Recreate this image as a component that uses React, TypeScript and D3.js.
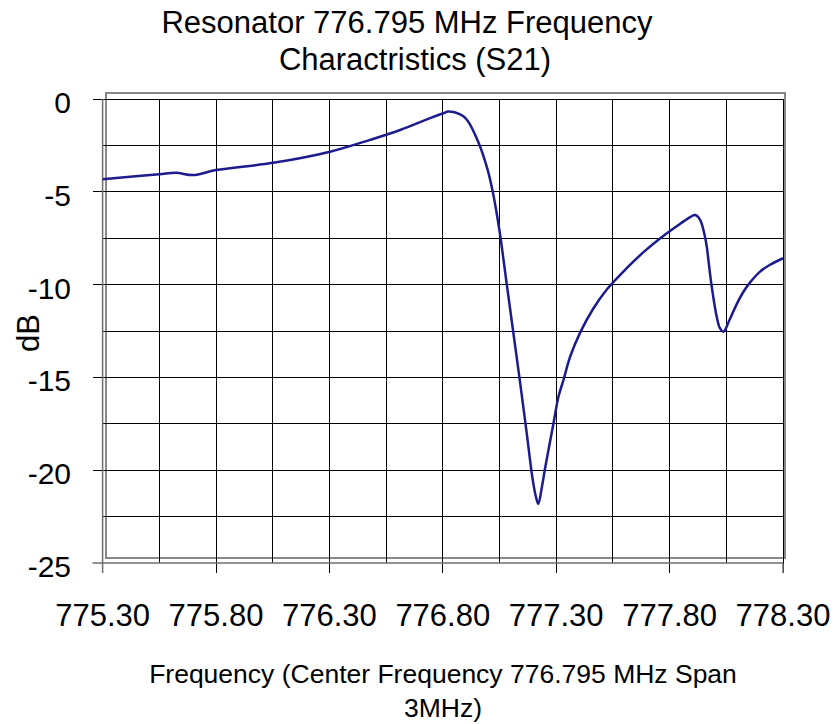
import React, { useRef, useEffect } from 'react';
import * as d3 from 'd3';

// S21 trace (MHz, dB)
const freqs = [
  775.30, 775.549, 775.624, 775.699, 775.80, 776.052, 776.303, 776.48, 776.612, 776.744,
  776.802, 776.824, 776.877, 776.907, 776.956, 776.996, 777.022, 777.05, 777.08, 777.11,
  777.14, 777.17, 777.195, 777.21, 777.221, 777.237, 777.251, 777.288, 777.31, 777.332,
  777.361, 777.405, 777.463, 777.524, 777.612, 777.685, 777.759, 777.847, 777.891, 777.913,
  777.935, 777.956, 777.964, 777.971, 777.986, 778.008, 778.022, 778.037, 778.066, 778.096,
  778.125, 778.155, 778.199, 778.243, 778.30,
];
const s21 = [
  -4.32, -4.06, -3.98, -4.10, -3.83, -3.44, -2.84, -2.2, -1.67, -1.03,
  -0.77, -0.68, -0.83, -1.13, -2.3, -3.74, -5.1, -7.1, -9.8, -12.5,
  -15.2, -18.0, -20.4, -21.4, -21.82, -20.9, -19.9, -17.47, -16.04, -15.14,
  -13.9, -12.6, -11.3, -10.25, -9.1, -8.25, -7.5, -6.72, -6.36, -6.25,
  -6.52, -7.42, -7.97, -8.67, -10.13, -11.75, -12.35, -12.54, -11.85, -11.05,
  -10.4, -9.88, -9.3, -8.93, -8.58,
];

const xMajorTicks = [775.3, 775.8, 776.3, 776.8, 777.3, 777.8, 778.3];
const xGridTicks = [775.55, 776.05, 776.55, 777.05, 777.55, 778.05];
const yMajorTicks = [0, -5, -10, -15, -20, -25];
const yGridTicks = [-2.5, -7.5, -12.5, -17.5, -22.5];

const titleLines = ['Resonator 776.795 MHz Frequency', 'Charactristics (S21)'];
const xTitleLines = ['Frequency (Center Frequency 776.795 MHz Span', '3MHz)'];

const App = () => {
  const svgRef = useRef<SVGSVGElement>(null);

  useEffect(() => {
    const svg = d3.select(svgRef.current);
    svg.selectAll('*').remove();

    const font = 'Liberation Sans, Arial, sans-serif';
    const x = d3.scaleLinear().domain([775.3, 778.3]).range([102.6, 783]);
    const y = d3.scaleLinear().domain([-25, 0]).range([563, 99]);

    // plot area frame
    svg.append('rect')
      .attr('x', 106).attr('y', 93)
      .attr('width', 679).attr('height', 465)
      .attr('fill', 'none')
      .attr('stroke', '#888')
      .attr('stroke-width', 2);

    const grid = svg.append('g').attr('stroke', '#000').attr('stroke-width', 1).attr('shape-rendering', 'crispEdges');

    grid.selectAll('.vmaj')
      .data(xMajorTicks.slice(1))
      .enter().append('line')
      .attr('x1', d => x(d)).attr('x2', d => x(d))
      .attr('y1', y(0)).attr('y2', y(-25) + 10);

    grid.selectAll('.vmin')
      .data(xGridTicks)
      .enter().append('line')
      .attr('x1', d => x(d)).attr('x2', d => x(d))
      .attr('y1', y(0)).attr('y2', y(-25));

    grid.selectAll('.hmaj')
      .data(yMajorTicks.slice(0, -1))
      .enter().append('line')
      .attr('x1', x(775.3) - 10).attr('x2', x(778.3))
      .attr('y1', d => y(d)).attr('y2', d => y(d));

    grid.selectAll('.hmin')
      .data(yGridTicks)
      .enter().append('line')
      .attr('x1', x(775.3)).attr('x2', x(778.3))
      .attr('y1', d => y(d)).attr('y2', d => y(d));

    // axis lines
    const axes = svg.append('g').attr('stroke', '#6e6e6e').attr('stroke-width', 1.5);
    axes.append('line')
      .attr('x1', x(775.3) - 10).attr('x2', x(778.3))
      .attr('y1', y(-25)).attr('y2', y(-25));
    axes.append('line')
      .attr('x1', x(775.3)).attr('x2', x(775.3))
      .attr('y1', y(0)).attr('y2', y(-25) + 10);
    axes.append('line')
      .attr('x1', x(778.3)).attr('x2', x(778.3))
      .attr('y1', y(-25)).attr('y2', y(-25) + 10);

    // trace
    const data = freqs.map((f, i) => [f, s21[i]] as [number, number]);
    const line = d3.line<[number, number]>()
      .x(d => x(d[0]))
      .y(d => y(d[1]))
      .curve(d3.curveCatmullRom.alpha(0.5));

    svg.append('path')
      .datum(data)
      .attr('d', line)
      .attr('fill', 'none')
      .attr('stroke', '#1c1c8e')
      .attr('stroke-width', 2.5)
      .attr('stroke-linejoin', 'round');

    // tick labels
    svg.selectAll('.xlab')
      .data(xMajorTicks)
      .enter().append('text')
      .attr('x', d => x(d))
      .attr('y', 626)
      .attr('text-anchor', 'middle')
      .style('font-family', font)
      .style('font-size', '31px')
      .text(d => d.toFixed(2));

    svg.selectAll('.ylab')
      .data(yMajorTicks)
      .enter().append('text')
      .attr('x', 71)
      .attr('y', d => y(d) + 14)
      .attr('text-anchor', 'end')
      .style('font-family', font)
      .style('font-size', '30px')
      .text(d => d);

    // titles
    svg.selectAll('.title')
      .data(titleLines)
      .enter().append('text')
      .attr('x', (d, i) => (i === 0 ? 407 : 415))
      .attr('y', (d, i) => 33 + i * 37)
      .attr('text-anchor', 'middle')
      .style('font-family', font)
      .style('font-size', '31px')
      .text(d => d);

    svg.selectAll('.xtitle')
      .data(xTitleLines)
      .enter().append('text')
      .attr('x', 443)
      .attr('y', (d, i) => 683 + i * 34)
      .attr('text-anchor', 'middle')
      .style('font-family', font)
      .style('font-size', '26.5px')
      .text(d => d);

    svg.append('text')
      .attr('transform', 'translate(39,333) rotate(-90)')
      .attr('text-anchor', 'middle')
      .style('font-family', font)
      .style('font-size', '31px')
      .text('dB');
  }, []);

  return (
    <svg
      ref={svgRef}
      width="834"
      height="724"
      style={{ position: 'absolute', left: 0, top: 0, background: '#fff' }}
    ></svg>
  );
};

export default App;
